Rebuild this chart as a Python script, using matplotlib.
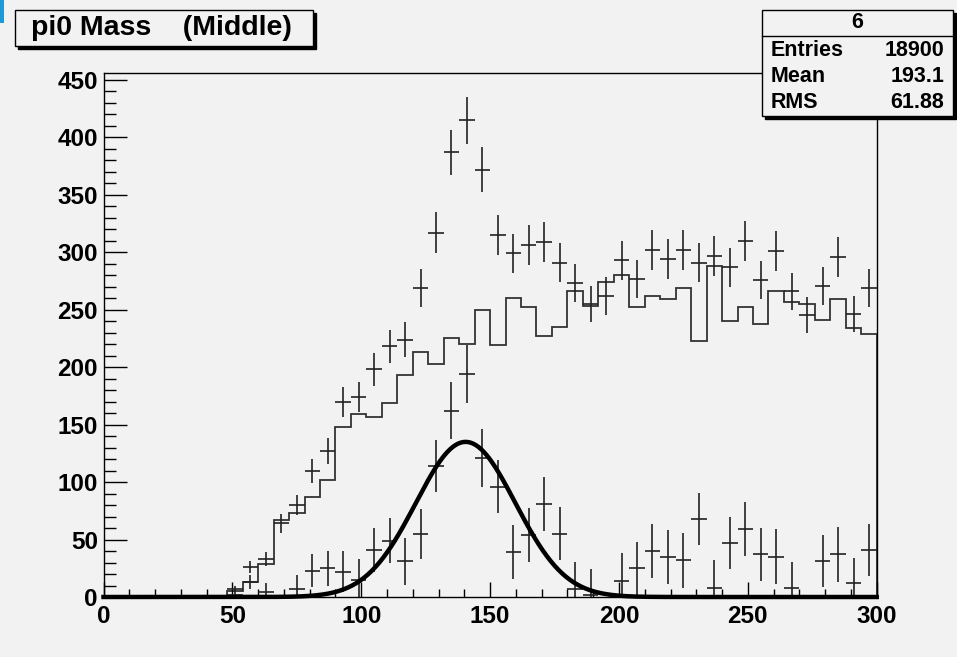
import numpy as np
import matplotlib
matplotlib.use("Agg")
import matplotlib.pyplot as plt
from matplotlib.patches import Rectangle
from matplotlib.lines import Line2D

plt.rcParams['font.family'] = ['Liberation Sans', 'DejaVu Sans']
plt.rcParams['font.weight'] = 'bold'

# 50 bins, width 6, range 0-300
bin_edges = np.arange(0, 301, 6)
bin_centers = bin_edges[:-1] + 3

# total (upper crosses)
total = [0, 0, 0, 0, 0, 0, 0, 0, 7, 26,
         33, 64, 80, 110, 127, 170, 174, 198, 218, 224,
         269, 317, 387, 415, 372, 315, 299, 306, 309, 291,
         273, 255, 262, 293, 277, 302, 294, 302, 291, 297,
         287, 310, 276, 301, 266, 245, 271, 296, 246, 269]

# background (step histogram)
background = [0, 0, 0, 0, 0, 0, 0, 0, 5, 13,
              29, 67, 73, 87, 102, 148, 159, 157, 169, 193,
              213, 203, 225, 220, 250, 219, 260, 252, 227, 235,
              266, 253, 274, 280, 252, 262, 259, 269, 223, 288,
              240, 252, 238, 266, 257, 255, 241, 259, 234, 229]

# signal = total - background (lower crosses), nan = below zero, not drawn
nan = np.nan
signal = [nan, nan, nan, nan, nan, nan, nan, nan, 2, 13,
          4, nan, 7, 23, 25, 22, 15, 41, 49, 31,
          55, 114, 162, 194, 121, 96, 39, 54, 81, 55,
          7, 2, nan, 14, 25, 40, 35, 32, 68, 8,
          47, 59, 37, 35, 8, nan, 31, 37, 12, 41]

# gaussian fit on signal
fit_amp, fit_mean, fit_sigma = 135.0, 140.5, 19.3

title_text = "pi0 Mass    (Middle)"
stats_name = "6"
stats_rows = [("Entries", "18900"), ("Mean", "193.1"), ("RMS", "61.88")]

W, H = 957, 657
BG = '#f2f2f2'


def fx(x):
    return x / W


def fy(y):
    return 1 - y / H


def pave(x0, y0, x1, y1):
    # ROOT style box with a shadow at bottom-right
    fig.add_artist(Rectangle((fx(x0 + 3), fy(y1 + 3)), (x1 - x0) / W, (y1 - y0) / H,
                             transform=fig.transFigure, facecolor='black', edgecolor='black', lw=1))
    fig.add_artist(Rectangle((fx(x0), fy(y1)), (x1 - x0) / W, (y1 - y0) / H,
                             transform=fig.transFigure, facecolor=BG, edgecolor='black', lw=1))


fig = plt.figure(figsize=(W / 100, H / 100), dpi=100, facecolor=BG)
ax = fig.add_axes([fx(103.5), fy(597), (876.7 - 103.5) / W, (597 - 73) / H])
ax.set_facecolor(BG)

tot = np.array(total, float)
bkg = np.array(background, float)
sig = np.array(signal, float)

ax.stairs(bkg, bin_edges, color='#333333', lw=1.3)

m = tot > 0
ax.errorbar(bin_centers[m], tot[m], xerr=3, yerr=np.sqrt(tot[m]),
            fmt='none', ecolor='#222222', elinewidth=1.2)

ms = ~np.isnan(sig)
ax.errorbar(bin_centers[ms], sig[ms], xerr=3, yerr=np.sqrt(tot[ms] + bkg[ms]),
            fmt='none', ecolor='#222222', elinewidth=1.2)

xf = np.linspace(0, 300, 601)
ax.plot(xf, fit_amp * np.exp(-0.5 * ((xf - fit_mean) / fit_sigma) ** 2),
        color='black', lw=3.2, clip_on=False, zorder=5)

ax.set_xlim(0, 300)
ax.set_ylim(0, 456)
ax.set_xticks(range(0, 301, 50))
ax.set_xticks(range(0, 301, 10), minor=True)
ax.set_yticks(range(0, 451, 50))
ax.set_yticks(range(0, 456, 10), minor=True)
ax.tick_params(which='both', direction='in', top=False, right=False, width=1,
               labelsize=17.5, color='black')
ax.tick_params(axis='x', which='major', length=10.8, pad=6)
ax.tick_params(axis='x', which='minor', length=5.8)
ax.tick_params(axis='y', which='major', length=16.5, pad=4)
ax.tick_params(axis='y', which='minor', length=8.6)
for sp in ax.spines.values():
    sp.set_linewidth(1)
    sp.set_color('black')

# title box
pave(15, 10, 313, 46)
fig.text(fx(31), fy(28), title_text, fontsize=20.5, fontweight='bold',
         ha='left', va='center')

# stats box
pave(762, 10, 953, 116)
fig.add_artist(Line2D([fx(762), fx(953)], [fy(36), fy(36)],
                      transform=fig.transFigure, color='black', lw=1))
fig.text(fx(857), fy(23), stats_name, fontsize=15.5, fontweight='bold',
         ha='center', va='center')
for k, (name, val) in enumerate(stats_rows):
    yy = 50 + k * 26.5
    fig.text(fx(771), fy(yy), name, fontsize=15.5, fontweight='bold', ha='left', va='center')
    fig.text(fx(944), fy(yy), val, fontsize=15.5, fontweight='bold', ha='right', va='center')

# small blue mark at top-left corner
fig.add_artist(Rectangle((0, fy(23)), 4 / W, 23 / H, transform=fig.transFigure,
                         facecolor='#1f9ad6', edgecolor='none'))

fig.savefig('out.png', dpi=100, facecolor=BG)
